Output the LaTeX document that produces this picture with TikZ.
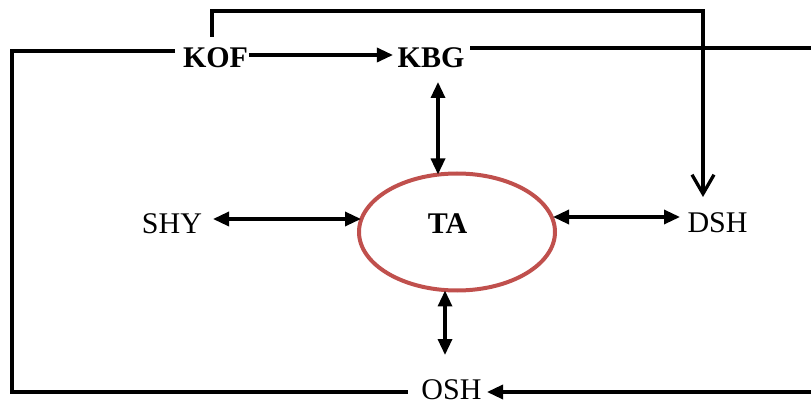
\documentclass[tikz,border=0pt]{standalone}
\usepackage{fontspec}
\setmainfont{Liberation Serif}
\usetikzlibrary{arrows.meta,shapes.geometric}
\definecolor{tared}{RGB}{192,80,77}
\begin{document}
\begin{tikzpicture}[x=1pt,y=-1pt,
  lbl/.style={inner sep=0pt,outer sep=0pt,anchor=base,text height=20pt,text depth=0pt,font=\fontsize{30}{36}\selectfont},
  blbl/.style={lbl,font=\fontsize{30}{36}\selectfont\bfseries},
  conn/.style={line width=3.3pt,line join=miter},
  tip/.style={conn,-{Triangle[length=16pt,width=14pt]}},
  tips/.style={conn,{Triangle[length=16pt,width=14pt]}-{Triangle[length=16pt,width=14pt]}},
  barb/.style={conn,-{Straight Barb[length=19pt,width=22pt,line width=3.3pt]}}]
\useasboundingbox (0,0) rectangle (811,403);
% nodes
\node[blbl] (KOF) at (215.5,68) {KOF};
\node[blbl] (KBG) at (431,68) {KBG};
\node[draw=tared,line width=4pt,ellipse,minimum width=196pt,minimum height=117pt,outer sep=0pt] (E) at (457,232) {};
\node[blbl] (TA) at (447.5,234) {TA};
\node[lbl] (SHY) at (172,234) {SHY};
\node[lbl] (DSH) at (717.5,233) {DSH};
\node[lbl] (OSH) at (451.5,399) {OSH};
% corner and edge coordinates
\coordinate (L1) at (12,51);
\coordinate (L2) at (12,392);
\coordinate (T2) at (703,11);
\coordinate (R1) at (811,48);
\coordinate (R2) at (811,392);
% connectors
\draw[conn] ([shift={(-8pt,7pt)}]KOF.west) -- (L1) -- (L2) -- ([shift={(-13.5pt,-3pt)}]OSH.west);
\draw[barb] ([shift={(-3.5pt,11pt)}]KOF.north) |- (T2) -- ([shift={(-14.5pt,16pt)}]DSH.north);
\draw[tip] ([shift={(1pt,3pt)}]KOF.east) -- ([shift={(-4.7pt,3pt)}]KBG.west);
\draw[conn] ([shift={(5.7pt,10pt)}]KBG.east) -- (R1);
\draw[tips] ([shift={(7pt,-14pt)}]KBG.south) -- ([shift={(-19pt,-1pt)}]E.north);
\draw[tips] ([shift={(11pt,5pt)}]SHY.east) -- ([shift={(2pt,13pt)}]E.west);
\draw[tips] ([shift={(-2pt,15pt)}]E.east) -- ([shift={(-7.5pt,6pt)}]DSH.west);
\draw[tips] ([xshift=-12pt]E.south) -- ([shift={(-6.5pt,24pt)}]OSH.north);
\draw[tip] (R2) -- ([shift={(5.5pt,-3pt)}]OSH.east);
\end{tikzpicture}
\end{document}
